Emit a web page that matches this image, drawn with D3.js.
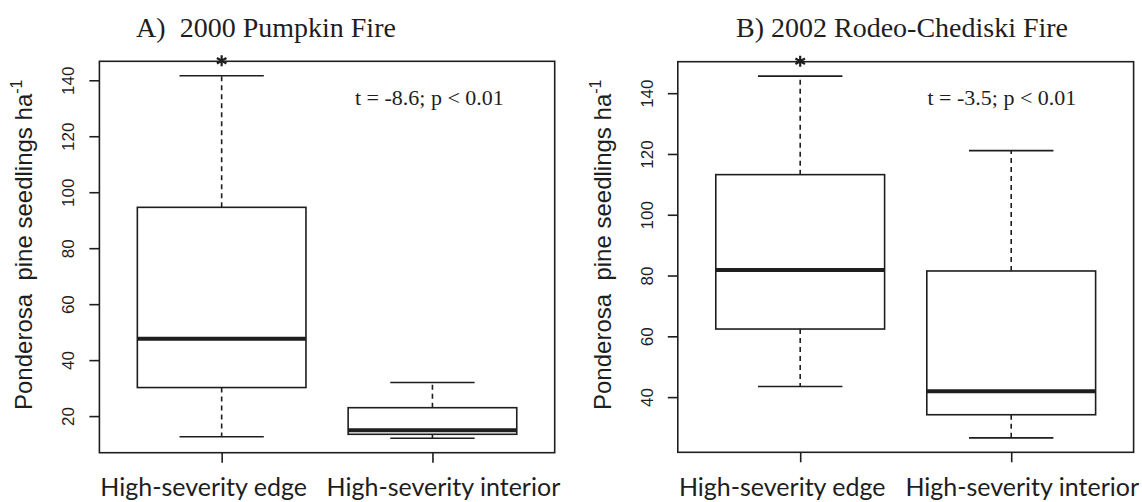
<!DOCTYPE html>
<html>
<head>
<meta charset="utf-8">
<script src="https://cdn.jsdelivr.net/npm/d3@7"></script>
<style>
  body { margin: 0; background: #fff; }
  svg { display: block; }
</style>
</head>
<body>
<div id="chart"></div>
<script>
// Data: five-number summaries (lower whisker, Q1, median, Q3, upper whisker)
const groups = ["High-severity edge", "High-severity interior"];
const pumpkinStats = [
  [12.6, 30.2, 47.6, 94.6, 141.6],
  [12.1, 13.5, 14.9, 23.0, 32.0]
];
const rodeoStats = [
  [43.5, 62.4, 81.8, 113.2, 145.6],
  [26.6, 34.2, 41.9, 81.5, 121.1]
];
const pumpkinTicks = [20, 40, 60, 80, 100, 120, 140];
const rodeoTicks = [40, 60, 80, 100, 120, 140];
const panelTitles = ["A)\u00a0\u00a02000 Pumpkin Fire", "B) 2002 Rodeo-Chediski Fire"];
const testLabels = ["t = -8.6; p < 0.01", "t = -3.5; p < 0.01"];

const width = 1142, height = 502;
const ink = "#1e1e1e";

const svg = d3.select("#chart").append("svg")
  .attr("width", width)
  .attr("height", height);

// Layout for each panel (plot frame in pixels)
const panels = [
  { stats: pumpkinStats, ticks: pumpkinTicks, title: panelTitles[0], test: testLabels[0],
    left: 99.4, right: 554.7, top: 61.3, bottom: 452.7, titleX: 266, testX: 355 },
  { stats: rodeoStats, ticks: rodeoTicks, title: panelTitles[1], test: testLabels[1],
    left: 677.8, right: 1133.6, top: 61.7, bottom: 452.3, titleX: 902, testX: 927.5 }
];

function drawPanel(p) {
  const g = svg.append("g");

  // R style ranges: pad 4% on each side
  const lo = d3.min(p.stats, d => d[0]);
  const hi = d3.max(p.stats, d => d[4]);
  const pad = (hi - lo) * 0.04;
  const y = d3.scaleLinear().domain([lo - pad, hi + pad]).range([p.bottom, p.top]);
  const x = d3.scaleLinear().domain([0.42, 2.58]).range([p.left, p.right]);

  const boxHalf = 0.4, capHalf = 0.2;

  p.stats.forEach((s, i) => {
    const cx = x(i + 1);
    const [wLo, q1, med, q3, wHi] = s;

    // whiskers
    g.append("line")
      .attr("x1", cx).attr("x2", cx)
      .attr("y1", y(q3)).attr("y2", y(wHi))
      .attr("stroke", ink).attr("stroke-width", 1.6)
      .attr("stroke-dasharray", "5,4");
    g.append("line")
      .attr("x1", cx).attr("x2", cx)
      .attr("y1", y(q1)).attr("y2", y(wLo))
      .attr("stroke", ink).attr("stroke-width", 1.6)
      .attr("stroke-dasharray", "5,4");

    // caps
    [wLo, wHi].forEach(v => {
      g.append("line")
        .attr("x1", x(i + 1 - capHalf)).attr("x2", x(i + 1 + capHalf))
        .attr("y1", y(v)).attr("y2", y(v))
        .attr("stroke", ink).attr("stroke-width", 1.6);
    });

    // box
    g.append("rect")
      .attr("x", x(i + 1 - boxHalf))
      .attr("y", y(q3))
      .attr("width", x(i + 1 + boxHalf) - x(i + 1 - boxHalf))
      .attr("height", y(q1) - y(q3))
      .attr("fill", "#fff")
      .attr("stroke", ink).attr("stroke-width", 1.6);

    // median
    g.append("line")
      .attr("x1", x(i + 1 - boxHalf)).attr("x2", x(i + 1 + boxHalf))
      .attr("y1", y(med)).attr("y2", y(med))
      .attr("stroke", ink).attr("stroke-width", 4);
  });

  // frame
  g.append("rect")
    .attr("x", p.left).attr("y", p.top)
    .attr("width", p.right - p.left).attr("height", p.bottom - p.top)
    .attr("fill", "none")
    .attr("stroke", ink).attr("stroke-width", 1.6);

  // significance star above the edge group
  g.append("path")
    .attr("d", d3.symbol(d3.symbolAsterisk, 85)())
    .attr("transform", `translate(${x(1)},${p.top - 0.5})`)
    .attr("fill", "none")
    .attr("stroke", ink).attr("stroke-width", 2.2);

  // y axis
  const yAxis = g.append("g")
    .attr("transform", `translate(${p.left},0)`)
    .call(d3.axisLeft(y).tickValues(p.ticks).tickSize(10).tickSizeOuter(0));
  yAxis.select(".domain").remove();
  yAxis.selectAll(".tick line").attr("stroke", ink).attr("stroke-width", 1.6);
  yAxis.selectAll(".tick text")
    .attr("x", null).attr("dy", null)
    .attr("transform", "translate(-25,0) rotate(-90)")
    .attr("text-anchor", "middle")
    .attr("fill", ink)
    .attr("font-family", "Liberation Sans, Arial, sans-serif")
    .attr("font-size", 17);

  // x axis ticks (labels drawn separately)
  const xAxis = g.append("g")
    .attr("transform", `translate(0,${p.bottom})`)
    .call(d3.axisBottom(x).tickValues([1, 2]).tickSize(10).tickFormat(""));
  xAxis.select(".domain").remove();
  xAxis.selectAll(".tick line").attr("stroke", ink).attr("stroke-width", 1.6);

  // group labels
  const labelShift = [-18, 11];
  groups.forEach((name, i) => {
    g.append("text")
      .attr("x", x(i + 1) + labelShift[i])
      .attr("y", 496)
      .attr("text-anchor", "middle")
      .attr("font-family", "Lato, sans-serif")
      .attr("font-size", 25)
      .attr("fill", ink)
      .text(name);
  });

  // y axis title
  const yt = g.append("text")
    .attr("transform", `translate(${p.left - 67},410) rotate(-90)`)
    .attr("font-family", "Liberation Sans, Arial, sans-serif")
    .attr("font-size", 24)
    .attr("fill", ink);
  yt.append("tspan").text("Ponderosa\u00a0\u00a0pine seedlings ha");
  yt.append("tspan").attr("dy", -10).attr("font-size", 16).text("-1");

  // panel title
  g.append("text")
    .attr("x", p.titleX).attr("y", 37)
    .attr("text-anchor", "middle")
    .attr("font-family", "Liberation Serif, Times New Roman, serif")
    .attr("font-size", 28)
    .attr("fill", ink)
    .text(p.title);

  // test statistic
  g.append("text")
    .attr("x", p.testX).attr("y", 105)
    .attr("font-family", "Liberation Serif, Times New Roman, serif")
    .attr("font-size", 22)
    .attr("fill", ink)
    .text(p.test);
}

panels.forEach(drawPanel);
</script>
</body>
</html>
